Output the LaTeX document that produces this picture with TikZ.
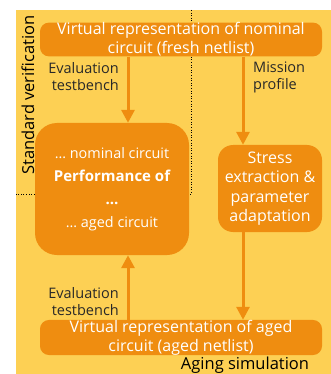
\documentclass[tikz,border=0pt]{standalone}
\usepackage{fontspec}
\setmainfont{Open Sans}
\usetikzlibrary{arrows.meta,positioning}
\definecolor{bgyellow}{RGB}{253,208,84}
\definecolor{boxorange}{RGB}{239,141,16}
\definecolor{labelgray}{RGB}{40,40,40}
\tikzstyle{netlist}=[rectangle,rounded corners=9pt,fill=boxorange,text=white,
  			  minimum width=282pt,minimum height=33pt,inner sep=0pt,align=center,
  			  font=\fontsize{16}{19}\selectfont]
\tikzstyle{process}=[rectangle,fill=boxorange,text=white,inner sep=0pt,align=center]
\tikzstyle{flow}=[-{Triangle[length=13pt,width=13pt]},line width=3pt,draw=boxorange]
\tikzstyle{note}=[text=labelgray,font=\fontsize{14.5}{17}\selectfont,inner sep=0pt]
\tikzstyle{region}=[black,dotted,line width=.6pt]

\begin{document}
\begin{tikzpicture}[x=1pt,y=-1pt]
	\useasboundingbox (0,0) rectangle (331,374);
	\fill[bgyellow] (16,10) rectangle (331,374);
	\draw[region] (191,10) -- (191,194) -- (16,194);
	\node[rotate=90,font=\fontsize{16.5}{18}\selectfont,inner sep=0pt] (stdver) at (28,95) {Standard verification};
	\node[font=\fontsize{16.5}{18}\selectfont,inner sep=0pt] (agesim) at (245,365) {Aging simulation};

	\node[netlist] (fresh) at (181,39.5) {Virtual representation of nominal\\circuit (fresh netlist)};
	\node[netlist] (aged) at (181,337.5) {Virtual representation of aged\\circuit (aged netlist)};
	\node[process,rounded corners=22pt,minimum width=154pt,minimum height=132pt,
		font=\fontsize{15}{23}\selectfont] (perf) at (112,189)
		{\fontsize{14.4}{23}\selectfont \dots\ nominal circuit\\
		 \bfseries Performance of\\
		 \bfseries \dots\\
		 \fontsize{14.4}{23}\selectfont \dots\ aged circuit};
	\node[process,rounded corners=15pt,minimum width=104pt,minimum height=87pt,
		font=\fontsize{16}{19.5}\selectfont] (stress) at (270,188.5)
		{Stress\\extraction \&\\parameter\\adaptation};

	\coordinate (evalx) at (128,0);
	\coordinate (missx) at (243,0);

	\draw[flow] (evalx |- fresh.south) -- (evalx |- perf.north);
	\draw[flow] (evalx |- aged.north) -- (evalx |- perf.south);
	\draw[flow] (missx |- fresh.south) -- (missx |- stress.north);
	\draw[flow] (missx |- stress.south) -- (missx |- aged.north);

	\node[note,align=right,anchor=east] (evaltop) at (119,77) {Evaluation\\testbench};
	\node[note,align=right,anchor=east] (evalbot) at (119,302) {Evaluation\\testbench};
	\node[note,align=left,anchor=west] (mission) at (253,77) {Mission\\profile};
\end{tikzpicture}
\end{document}
